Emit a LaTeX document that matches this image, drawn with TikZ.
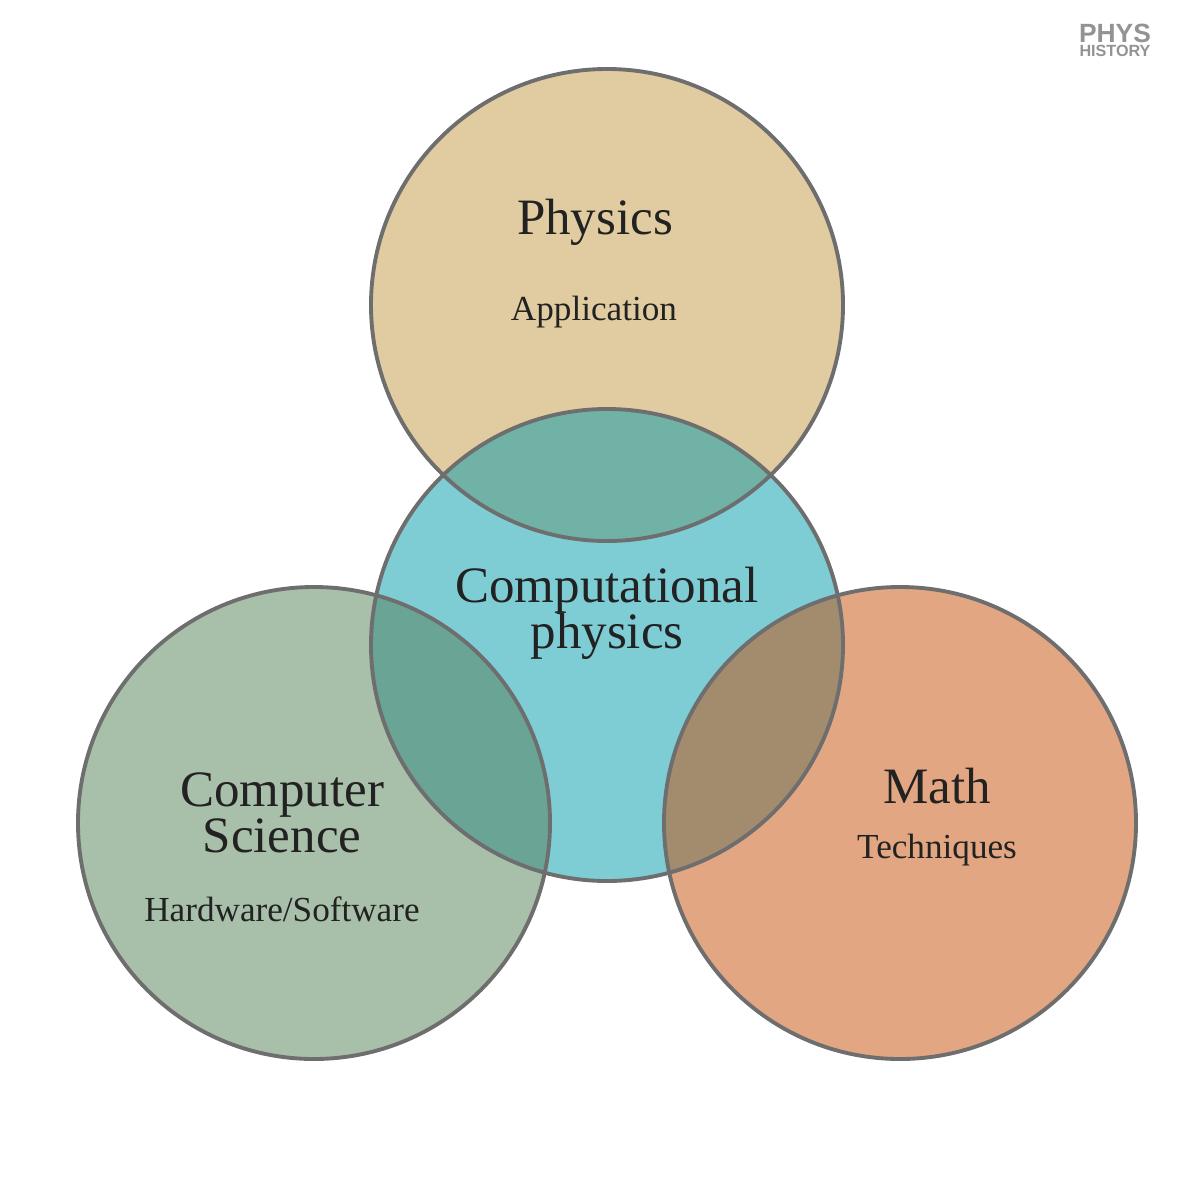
\documentclass[tikz,border=0pt]{standalone}
\usepackage{fontspec}
\setmainfont{Liberation Serif}
\newfontfamily\logofont{Liberation Sans}
\definecolor{cphys}{HTML}{E0CCA0}
\definecolor{ccomp}{HTML}{7ECDD4}
\definecolor{ccs}{HTML}{A8BFAA}
\definecolor{cmath}{HTML}{E2A682}
\definecolor{cpc}{HTML}{70B3A6}
\definecolor{ccc}{HTML}{69A495}
\definecolor{cmc}{HTML}{A38C6E}
\definecolor{edge}{HTML}{6E6E6E}
\definecolor{txt}{HTML}{222222}
\begin{document}
\begin{tikzpicture}[x=0.01cm,y=-0.01cm,
  ring/.style={draw=edge,line width=1.1pt,fill=none},
  big/.style={font=\fontsize{14.5}{16}\selectfont,text=txt,align=center},
  small/.style={font=\fontsize{10}{12}\selectfont,text=txt}]
\useasboundingbox[fill=white] (0,0) rectangle (1200,1200);
\def\R{236}
\coordinate (P) at (607,305);
\coordinate (C) at (607,645);
\coordinate (S) at (314,823);
\coordinate (M) at (900,823);
\fill[cphys] (P) circle (\R);
\fill[ccomp] (C) circle (\R);
\fill[ccs] (S) circle (\R);
\fill[cmath] (M) circle (\R);
\begin{scope}\clip (P) circle (\R); \fill[cpc] (C) circle (\R);\end{scope}
\begin{scope}\clip (S) circle (\R); \fill[ccc] (C) circle (\R);\end{scope}
\begin{scope}\clip (M) circle (\R); \fill[cmc] (C) circle (\R);\end{scope}
\draw[ring] (P) circle (\R);
\draw[ring] (C) circle (\R);
\draw[ring] (S) circle (\R);
\draw[ring] (M) circle (\R);
\node[big] (np) at (595,222) {Physics};
\node[small] (ap) at (594,312) {Application};
\node[big,align=center] (nc) at (607,613) {Computational\\[-3pt]physics};
\node[big,align=center] (ns) at (282,813) {Computer\\[-3pt]Science};
\node[small] (hs) at (282,909) {Hardware/Software};
\node[big] (nm) at (937,786) {Math};
\node[small] (tm) at (937,850) {Techniques};
\node[font=\logofont\bfseries\fontsize{7.5}{6}\selectfont,text=gray!85,align=center,inner sep=0] (logo) at (1115,40) {PHYS\\[-2pt]{\fontsize{4.6}{5}\selectfont HISTORY}};
\end{tikzpicture}
\end{document}
